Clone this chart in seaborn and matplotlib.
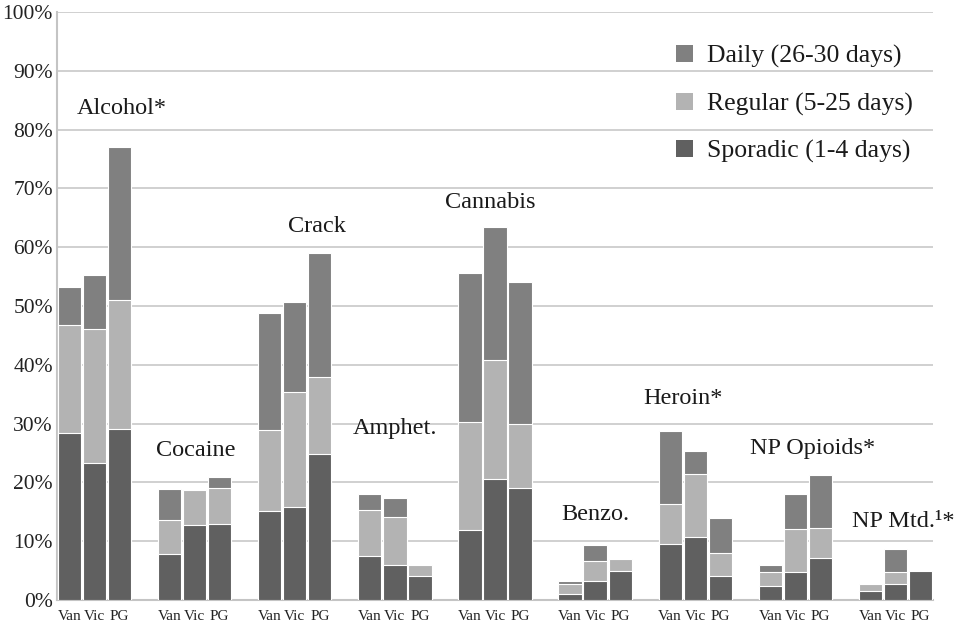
import numpy as np
import pandas as pd
import matplotlib
matplotlib.use("Agg")
import matplotlib.pyplot as plt
import matplotlib.patches as mpatches
import seaborn as sns

# --------------------------
# DATA (percent of respondents)
# --------------------------
groups = ["Alcohol*", "Cocaine", "Crack", "Amphet.", "Cannabis",
          "Benzo.", "Heroin*", "NP Opioids*", "NP Mtd.¹*"]
sites = ["Van", "Vic", "PG"]

sporadic = [28.4, 23.3, 29.1,  7.9, 12.7, 13.0, 15.2, 15.9, 24.9,
             7.5,  6.0,  4.0, 11.9, 20.6, 19.0,  1.1,  3.3,  4.9,
             9.5, 10.7,  4.0,  2.4,  4.7,  7.1,  1.5,  2.7,  5.0]
regular = [18.3, 22.8, 21.9,  5.7,  6.0,  6.0, 13.7, 19.5, 13.1,
            7.8,  8.1,  2.0, 18.4, 20.2, 11.0,  1.7,  3.3,  2.0,
            6.9, 10.7,  4.0,  2.3,  7.3,  5.1,  1.3,  2.0,  0.0]
daily = [ 6.5,  9.2, 26.0,  5.2,  0.0,  2.0, 19.9, 15.2, 21.0,
          2.7,  3.2,  0.0, 25.3, 22.6, 24.0,  0.4,  2.7,  0.0,
         12.4,  4.0,  6.0,  1.3,  6.0,  9.1,  0.0,  4.0,  0.0]

# label anchor for each group: (slot offset, height in %)
label_pos = [(2.1, 83.6), (1.05, 25.4), (1.9, 63.6), (1.0, 29.2), (0.8, 67.6),
             (1.0, 14.6), (0.5, 34.2), (1.7, 25.7), (1.3, 13.3)]

series = ["Daily (26-30 days)", "Regular (5-25 days)", "Sporadic (1-4 days)"]
colors = {"Daily (26-30 days)": "#808080",
          "Regular (5-25 days)": "#b3b3b3",
          "Sporadic (1-4 days)": "#606060"}

# --------------------------
# TABLE
# --------------------------
rows = []
for gi, g in enumerate(groups):
    for si, s in enumerate(sites):
        k = gi * 3 + si
        rows.append({"group": g, "site": s, "pos": gi * 4 + si,
                     "sporadic": sporadic[k], "regular": regular[k], "daily": daily[k]})
df = pd.DataFrame(rows)
df["top_sporadic"] = df["sporadic"]
df["top_regular"] = df["sporadic"] + df["regular"]
df["top_daily"] = df["top_regular"] + df["daily"]

# --------------------------
# PLOT
# --------------------------
sns.set_style("white")
serif = ["Liberation Serif", "DejaVu Serif"]
plt.rcParams["font.family"] = serif

fig = plt.figure(figsize=(9.7, 6.35), dpi=100)
ax = fig.add_axes([57 / 970, 1 - 600 / 635, (933 - 57) / 970, 588 / 635])

for col, name in [("top_daily", series[0]), ("top_regular", series[1]),
                  ("top_sporadic", series[2])]:
    sns.barplot(data=df, x="pos", y=col, native_scale=True, width=0.93,
                color=colors[name], saturation=1, errorbar=None,
                edgecolor="white", linewidth=0.8, ax=ax, zorder=3)

ax.set_xlim(-0.5, 34.5)
ax.set_ylim(0, 100)
ax.set_yticks(np.arange(0, 101, 10))
ax.set_yticklabels([f"{v}%" for v in range(0, 101, 10)], fontsize=15.5, color="#222222")
ax.set_xticks(df["pos"])
ax.set_xticklabels(df["site"], fontsize=11, color="#222222")
ax.tick_params(axis="y", length=0, pad=3)
ax.tick_params(axis="x", length=0, pad=7)
ax.set_xlabel("")
ax.set_ylabel("")
ax.grid(axis="y", color="#c4c4c4", linewidth=1.1, zorder=0)
ax.set_axisbelow(True)
for side in ["top", "right"]:
    ax.spines[side].set_visible(False)
for side in ["left", "bottom"]:
    ax.spines[side].set_color("#c4c4c4")
    ax.spines[side].set_linewidth(1.5)

for gi, g in enumerate(groups):
    dx, y = label_pos[gi]
    ax.text(gi * 4 + dx, y, g, ha="center", va="center", fontsize=17.5, color="#1a1a1a")

handles = [mpatches.Patch(facecolor=colors[s], edgecolor="none", label=s) for s in series]
leg = fig.legend(handles=handles, loc="upper left", bbox_to_anchor=(676 / 970, 1 - 45 / 635),
                 frameon=False, fontsize=18.5, handlelength=0.65, handleheight=0.65,
                 handletextpad=0.55, labelspacing=0.95, borderpad=0, borderaxespad=0)
for t in leg.get_texts():
    t.set_color("#1a1a1a")

fig.savefig("out.png", dpi=100)
plt.close(fig)
